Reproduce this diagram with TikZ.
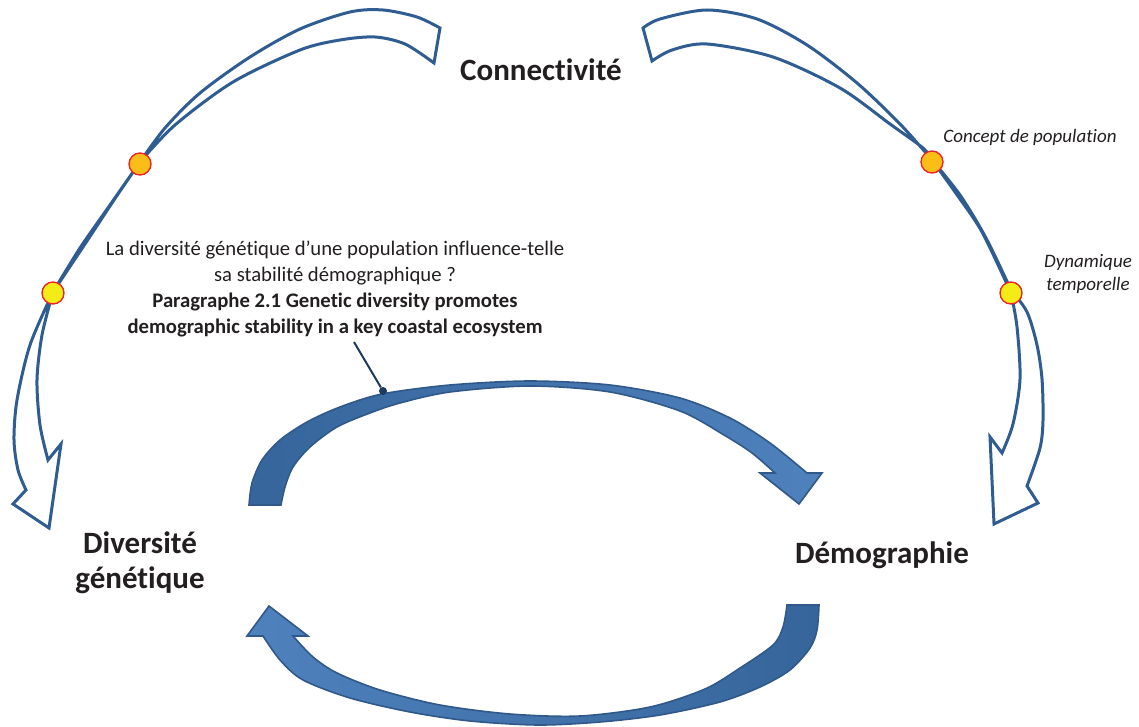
\documentclass[tikz,border=0pt]{standalone}
\usepackage{fontspec}
\setmainfont{Carlito}[Ligatures=NoCommon]
\definecolor{outlinecol}{HTML}{2F5D92}
\definecolor{arcdark}{HTML}{35659A}
\definecolor{arclight}{HTML}{4F81BD}
\definecolor{arcedge}{HTML}{30598A}
\definecolor{dotred}{HTML}{E8262A}
\definecolor{dotorange}{HTML}{FBBE18}
\definecolor{dotyellow}{HTML}{F4EC17}
\definecolor{textcol}{HTML}{231F20}
\definecolor{callcol}{HTML}{1B3A5E}
\tikzset{
  hollow/.style={draw=outlinecol, line width=3pt, fill=white, line join=miter},
  thickarc/.style={draw=arcedge, line width=1.6pt, line join=miter},
  dotnode/.style={circle, draw=dotred, line width=1.4pt, minimum size=22pt, inner sep=0pt},
  bigtitle/.style={font=\bfseries\fontsize{31}{35}\selectfont, text=textcol, align=center},
  question/.style={font=\fontsize{20.7}{26}\selectfont, text=textcol, align=center},
  sidenote/.style={font=\itshape\fontsize{19}{23}\selectfont, text=textcol, align=center},
  callout/.style={draw=callcol, line width=2pt}
}
\begin{document}
\begin{tikzpicture}[x=1pt,y=-1pt]
\useasboundingbox (0,0) rectangle (1139,727);

% left hollow arrow
\draw[hollow]
  plot[smooth] coordinates {(440,28) (417,17) (383,10) (350,12) (300,29) (250,57) (200,93) (165,128) (140,162)}
  -- plot[smooth] coordinates {(140,162) (110,205) (80,248) (53,292)}
  -- plot[smooth] coordinates {(53,292) (30,345) (17,400) (14,440) (18,470) (26,490)}
  -- (13,504) -- (49,528) -- (61,444) -- (48,460)
  -- plot[smooth] coordinates {(48,460) (40,425) (37,380) (42,335) (53,292)}
  -- plot[smooth] coordinates {(53,292) (85,244) (114,200) (140,162)}
  -- plot[smooth] coordinates {(140,162) (175,125) (233,82) (300,50) (340,40) (375,37) (405,44) (434,63)}
  -- cycle;

% right hollow arrow
\draw[hollow]
  plot[smooth] coordinates {(643,28) (660,19) (707,10) (757,19) (807,45) (857,83) (900,124) (932,160)}
  -- plot[smooth] coordinates {(932,160) (960,195) (986,238) (1011,290)}
  -- plot[smooth] coordinates {(1011,290) (1027,312) (1037,345) (1042,379) (1043,420) (1040,448) (1027,486)}
  -- (1038,503) -- (994,524) -- (990,437) -- (1002,453)
  -- plot[smooth] coordinates {(1002,453) (1013,424) (1020,379) (1017,327) (1011,293)}
  -- plot[smooth] coordinates {(1011,293) (982,232) (955,192) (932,160)}
  -- plot[smooth] coordinates {(932,160) (923,148) (890,124) (840,88) (773,57) (707,44) (672,50) (652,61)}
  -- cycle;

% top thick arc (to Demographie)
\draw[thickarc, left color=arcdark, right color=arclight]
  plot[smooth] coordinates {(249,505) (252,483) (262,460) (280,440) (307,422) (340,407) (382,394) (450,385) (530,381) (610,385) (680,398) (730,418) (770,443) (807,473)}
  -- (822,473) -- (799,504) -- (760,473) -- (775,473)
  -- plot[smooth] coordinates {(775,473) (752,453) (724,435) (680,411) (610,392) (530,386) (450,392) (400,403) (370,413) (337,427) (310,447) (293,467) (285,487) (281,505)}
  -- cycle;

% bottom thick arc (to Diversite)
\draw[thickarc, left color=arclight, right color=arcdark]
  plot[smooth] coordinates {(819,605) (817,630) (810,648) (790,670) (760,687) (720,702) (660,715) (600,722) (538,725) (470,721) (410,712) (350,698) (303,680) (280,660) (263,636)}
  -- (247,636) -- (269,606) -- (308,636) -- (293,636)
  -- plot[smooth] coordinates {(293,636) (313,657) (337,673) (380,690) (440,705) (510,714) (580,716) (650,707) (705,689) (740,668) (773,645) (783,627) (787,605)}
  -- cycle;

% dots
\node[dotnode, fill=dotorange] (dotLa) at (140,164) {};
\node[dotnode, fill=dotyellow] (dotLb) at (53,293) {};
\node[dotnode, fill=dotorange] (dotRa) at (932,162) {};
\node[dotnode, fill=dotyellow] (dotRb) at (1011,293) {};

% texts
\node[bigtitle] (conn) at (541,70) {Connectivité};
\node[bigtitle] (div) at (140,563) {Diversité\\génétique};
\node[bigtitle] (demo) at (882,555) {Démographie};
\node[sidenote] (concept) at (1030,137) {Concept de population};
\node[sidenote] (dyn) at (1088,274) {Dynamique\\temporelle};
\node[question] (q) at (335,289) {La diversité génétique d’une population influence-telle\\sa stabilité démographique ?\\\textbf{Paragraphe 2.1 Genetic diversity promotes}\\\textbf{demographic stability in a key coastal ecosystem}};

% callout
\coordinate (qtip) at (354,342);
\node[circle, fill=callcol, inner sep=0pt, minimum size=8pt] (qdot) at (383,391) {};
\draw[callout] (qtip) -- (qdot);
\end{tikzpicture}
\end{document}
